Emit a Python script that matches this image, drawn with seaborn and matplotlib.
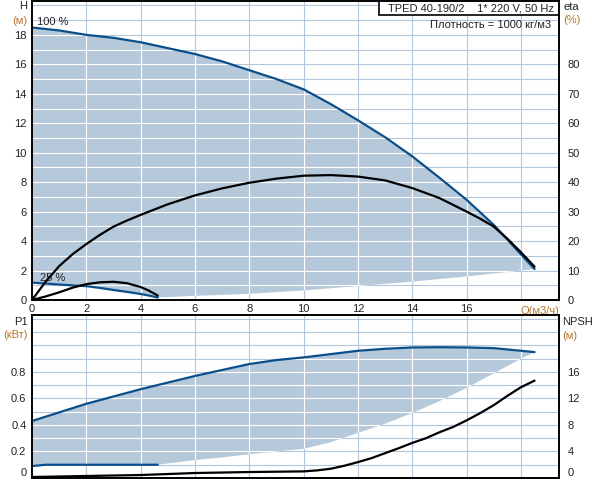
import numpy as np
import pandas as pd
import seaborn as sns
import matplotlib
matplotlib.use('Agg')
import matplotlib.pyplot as plt

# curves (100 % speed)
q_h = [0, 1, 2, 3, 4, 5, 6, 7, 8, 9, 10, 11, 12, 13, 14, 15, 16, 16.5, 17, 17.5, 18, 18.5]
h_100 = [18.5, 18.3, 18.0, 17.8, 17.5, 17.1, 16.7, 16.2, 15.6, 15.0, 14.3, 13.3, 12.2, 11.05, 9.75, 8.3, 6.8, 5.95, 5.1, 4.1, 3.1, 2.1]

q_eta = [0, 0.5, 1, 1.5, 2, 2.5, 3, 3.5, 4, 5, 6, 7, 8, 9, 10, 11, 12, 13, 14, 15, 16, 16.5, 17, 17.5, 18, 18.5]
eta_100 = [0, 6.2, 11.5, 15.6, 19, 22.1, 24.9, 27.0, 28.9, 32.5, 35.5, 37.9, 39.8, 41.2, 42.2, 42.4, 41.9, 40.6, 38.0, 34.6, 30.0, 27.6, 24.9, 20.8, 16.2, 11.3]

q_p = [0, 1, 2, 3, 4, 5, 6, 7, 8, 9, 10, 11, 12, 13, 14, 15, 16, 17, 18, 18.5]
p1_100 = [0.43, 0.495, 0.56, 0.615, 0.67, 0.72, 0.77, 0.815, 0.86, 0.89, 0.91, 0.935, 0.96, 0.975, 0.985, 0.987, 0.985, 0.98, 0.96, 0.95]

q_npsh = [0, 2, 4, 6, 8, 10, 10.5, 11, 11.5, 12, 12.5, 13, 13.5, 14, 14.5, 15, 15.5, 16, 16.5, 17, 17.5, 18, 18.5]
npsh_100 = [0.15, 0.3, 0.45, 0.75, 0.9, 1.0, 1.15, 1.4, 1.85, 2.4, 3.0, 3.75, 4.5, 5.3, 6.0, 6.9, 7.7, 8.7, 9.8, 11.0, 12.4, 13.7, 14.7]

# 25 % speed
q_25 = [0, 0.5, 1, 1.5, 2, 2.5, 3, 3.5, 4, 4.3, 4.63]
h_25 = [1.18, 1.12, 1.05, 0.99, 0.94, 0.82, 0.68, 0.55, 0.41, 0.3, 0.17]
eta_25 = [0, 1.2, 2.6, 4.2, 5.4, 6.0, 6.2, 5.7, 4.4, 3.2, 1.5]
p1_25 = [0.09, 0.1, 0.1, 0.1, 0.1, 0.1, 0.1, 0.1, 0.1, 0.1, 0.1]

# lower limit of the operating range
q_hmin = [4.63, 6, 8, 10, 12, 14, 16, 18, 18.5]
h_min = [0.17, 0.28, 0.42, 0.65, 0.95, 1.25, 1.6, 2.0, 2.1]
q_pmin = [4.63, 5, 6, 7, 8, 9, 10, 11, 12, 13, 14, 15, 16, 17, 18, 18.5]
p1_min = [0.1, 0.11, 0.135, 0.155, 0.18, 0.2, 0.22, 0.27, 0.34, 0.41, 0.49, 0.58, 0.68, 0.79, 0.9, 0.95]

h_ticks = list(range(0, 19, 2))
eta_ticks = list(range(0, 81, 10))
q_ticks = list(range(0, 17, 2))
p1_ticks = [0, 0.2, 0.4, 0.6, 0.8]
npsh_ticks = [0, 4, 8, 12, 16]

sns.set_style('white')
plt.rcParams['font.family'] = ['Liberation Sans', 'DejaVu Sans']
plt.rcParams['font.size'] = 8

blue = '#0b4f8a'
fill_c = '#b6c9db'
grid_c = '#b3c6dc'
unit_c = '#b5732e'
txt_c = '#222222'

fig = plt.figure(figsize=(5.92, 4.8), dpi=100)
ax1 = fig.add_axes([32/592, 180/480, 527/592, 299/480])
ax2 = fig.add_axes([32/592, 2/480, 527/592, 163/480])


def shade(ax, qa, ya, qb, yb, qc, yc):
    # upper curve, then lower limit and the 25 % curve back to Q=0
    xs = qa + qb[::-1] + qc[::-1]
    ys = ya + yb[::-1] + yc[::-1]
    return ax.fill(xs, ys, color=fill_c, lw=0, zorder=1)[0]


def grid(ax, hlines, patch):
    for x in range(2, 19, 2):
        ax.axvline(x, color=grid_c, lw=0.8, zorder=0.5)
        ax.axvline(x, color='white', lw=0.8, zorder=1.5).set_clip_path(patch)
    for y in hlines:
        ax.axhline(y, color=grid_c, lw=0.8, zorder=0.5)
        ax.axhline(y, color='white', lw=0.8, zorder=1.5).set_clip_path(patch)


def curve(ax, q, v, color):
    sns.lineplot(x=q, y=v, ax=ax, color=color, lw=1.6, zorder=3, sort=False)


# --- upper panel: H and eta ---
p = shade(ax1, q_h, h_100, q_hmin, h_min, q_25, h_25)
grid(ax1, range(1, 21), p)
curve(ax1, q_h, h_100, blue)
curve(ax1, q_25, h_25, blue)
ax1.set_xlim(0, 19.4)
ax1.set_ylim(0, 20.3)
ax1.set_xticks(q_ticks)
ax1.set_xticklabels([str(v) for v in q_ticks])
ax1.set_yticks(h_ticks)
ax1.set_yticklabels([str(v) for v in h_ticks])

ax1r = ax1.twinx()
curve(ax1r, q_eta, eta_100, 'black')
curve(ax1r, q_25, eta_25, 'black')
ax1r.set_ylim(0, 101.5)
ax1r.set_yticks(eta_ticks)
ax1r.set_yticklabels([str(v) for v in eta_ticks])

# --- lower panel: P1 and NPSH ---
p = shade(ax2, q_p, p1_100, q_pmin, p1_min, q_25, p1_25)
grid(ax2, [i / 10 for i in range(1, 13)], p)
curve(ax2, q_p, p1_100, blue)
curve(ax2, q_25, p1_25, blue)
ax2.set_xlim(0, 19.4)
ax2.set_ylim(0, 1.23)
ax2.set_xticks([])
ax2.set_yticks(p1_ticks)
ax2.set_yticklabels(['0', '0.2', '0.4', '0.6', '0.8'])

ax2r = ax2.twinx()
curve(ax2r, q_npsh, npsh_100, 'black')
ax2r.set_ylim(0, 24.6)
ax2r.set_yticks(npsh_ticks)
ax2r.set_yticklabels([str(v) for v in npsh_ticks])

for ax in (ax1, ax2, ax1r, ax2r):
    ax.set_xlabel('')
    ax.set_ylabel('')
    ax.tick_params(length=0, labelsize=8, labelcolor=txt_c)
    for s in ax.spines.values():
        s.set_color('black')
        s.set_linewidth(1.2)
for ax in (ax1, ax2):
    ax.tick_params(axis='y', pad=4)
    ax.tick_params(axis='x', pad=3)
for ax in (ax1r, ax2r):
    ax.tick_params(axis='y', pad=6)
ax2.get_yticklabels()[0].set_va('bottom')
ax2r.get_yticklabels()[0].set_va('bottom')

# texts
ax1.text(18, -0.4, 'Q(м3/ч)', color=unit_c, ha='left', va='top', fontsize=8)
ax1.text(0.2, 18.85, '100 %', color=txt_c, ha='left', va='center', fontsize=8)
ax1.text(0.28, 1.5, '25 %', color=txt_c, ha='left', va='center', fontsize=8)

fig.text(27/592, 1 - 6/480, 'H', ha='right', va='center', color=txt_c)
fig.text(27/592, 1 - 21/480, '(м)', ha='right', va='center', color=unit_c)
fig.text(563/592, 1 - 7/480, 'eta', ha='left', va='center', color=txt_c)
fig.text(563/592, 1 - 20/480, '(%)', ha='left', va='center', color=unit_c)
fig.text(28/592, 1 - 322/480, 'P1', ha='right', va='center', color=txt_c)
fig.text(28/592, 1 - 335/480, '(кВт)', ha='right', va='center', color=unit_c)
fig.text(562/592, 1 - 322/480, 'NPSH', ha='left', va='center', color=txt_c)
fig.text(562/592, 1 - 336/480, '(м)', ha='left', va='center', color=unit_c)

box = plt.Rectangle((0.658, 0.953), 0.342, 0.047, transform=ax1.transAxes,
                    facecolor='white', edgecolor='black', lw=1.2, zorder=5)
ax1.add_patch(box)
ax1.text(0.99, 0.9765, 'TPED 40-190/2    1* 220 V, 50 Hz', transform=ax1.transAxes,
         ha='right', va='center', color=txt_c, zorder=6)
ax1.text(0.985, 0.92, 'Плотность = 1000 кг/м3', transform=ax1.transAxes,
         ha='right', va='center', color=txt_c, zorder=6)

fig.savefig('out.png', dpi=100)
